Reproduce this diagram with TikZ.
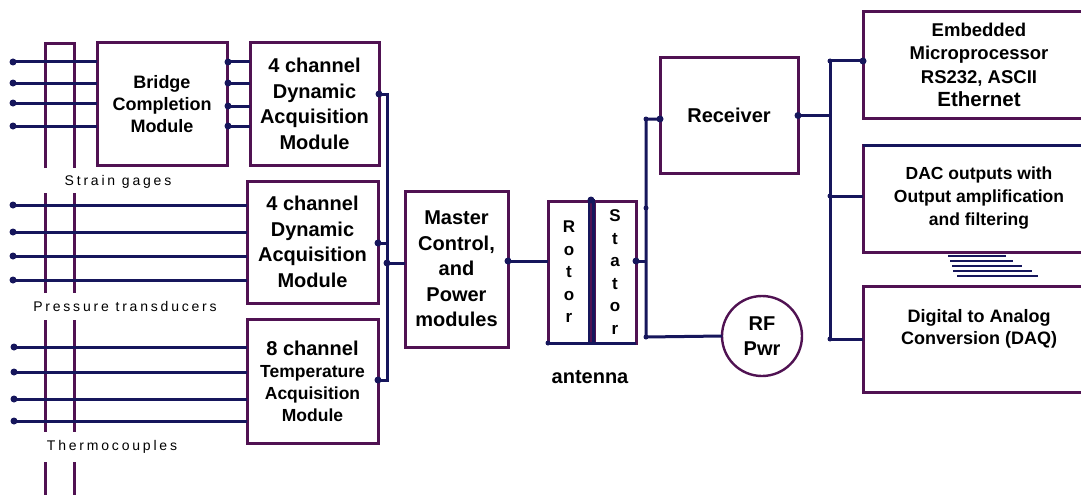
\documentclass[tikz,border=0pt]{standalone}
\usepackage{fontspec}
\setmainfont{Liberation Sans}
\newfontfamily\lblfont[LetterSpace=20]{Liberation Sans}
\newcommand\myfs[2]{\fontsize{#1}{#2}\selectfont}
\definecolor{pur}{RGB}{80,18,82}
\definecolor{nav}{RGB}{22,22,92}
\tikzset{
  box/.style={draw=pur, line width=3pt, inner sep=0pt, outer sep=0pt, align=center, font=\bfseries},
  wire/.style={draw=nav, line width=3pt},
  rail/.style={draw=pur, line width=3pt},
  jdot/.style={circle, fill=nav, inner sep=0pt, minimum size=7pt},
  lbl/.style={inner sep=0pt, font=\lblfont\myfs{14}{16}}
}
\begin{document}
\begin{tikzpicture}[x=1pt,y=-1pt]
\useasboundingbox (0,0) rectangle (1081,495);
\clip (0,0) rectangle (1081,495);
\fill[white] (0,0) rectangle (1081,495);

% ---- boxes ----
\node[box, minimum width=130pt, minimum height=122pt, font=\bfseries\myfs{18}{22}] (bridge) at (162,104) {Bridge\\Completion\\Module};
\node[box, minimum width=129pt, minimum height=122pt, font=\bfseries\myfs{20}{25.5}] (dynA) at (314.5,104) {4 channel\\Dynamic\\Acquisition\\Module};
\node[box, minimum width=131pt, minimum height=122pt, font=\bfseries\myfs{20}{25.5}] (dynB) at (312.5,242) {4 channel\\Dynamic\\Acquisition\\Module};
\node[box, minimum width=131pt, minimum height=124pt, font=\bfseries\myfs{17.5}{22}] (temp) at (312.5,381) {{\myfs{20}{24}8 channel}\\Temperature\\Acquisition\\Module};
\node[box, minimum width=103pt, minimum height=156pt, font=\bfseries\myfs{20}{25.5}] (master) at (456.5,269) {Master\\Control,\\and\\Power\\modules};
\node[box, minimum width=42pt, minimum height=142pt, font=\bfseries\myfs{17}{22.5}] (rotor) at (569,272) {R\\o\\t\\o\\r};
\node[box, minimum width=42pt, minimum height=142pt, font=\bfseries\myfs{17}{22.5}] (stator) at (615,272) {S\\t\\a\\t\\o\\r};
\node[box, minimum width=138pt, minimum height=115pt, font=\bfseries\myfs{20}{25}] (receiver) at (729,115.5) {Receiver};
\node[box, circle, line width=2.4pt, minimum size=80pt, font=\bfseries\myfs{20}{25}] (rf) at (762,336) {RF\\Pwr};
\node[box, minimum width=232pt, minimum height=106pt, font=\bfseries\myfs{18.5}{23.5}] (emb) at (979,65) {Embedded\\Microprocessor\\RS232, ASCII\\{\myfs{20.5}{24}Ethernet}};
\node[box, minimum width=232pt, minimum height=107pt, font=\bfseries\myfs{17.5}{23}] (dac) at (979,198.5) {DAC outputs with\\Output amplification\\and filtering};
\node[box, minimum width=232pt, minimum height=106pt] (daq) at (979,339) {};
\node[align=center, inner sep=0pt, font=\bfseries\myfs{18}{22}] (daqtext) at (979,329) {Digital to Analog\\Conversion (DAQ)};
\draw[wire] (dac.north west) -- (dac.north east);

% ---- labels ----
\node[lbl] (lstrain) at (118,182) {Strain gages};
\node[lbl] (lpress) at (125,306) {Pressure transducers};
\node[lbl] (lthermo) at (112,447) {Thermocouples};
\node[inner sep=0pt, font=\bfseries\myfs{20}{24}] (lant) at (590,377) {antenna};

% ---- sensor rails ----
\draw[rail] (45,168) -- (45,44) -- (74,44) -- (74,168);
\draw[rail] (45,193) -- (45,293) (74,193) -- (74,293);
\draw[rail] (45,320) -- (45,432) (74,320) -- (74,432);
\draw[rail] (45,462) -- (45,500) (74,462) -- (74,500);

% ---- sensor inputs ----
\foreach \i/\yy in {1/62,2/83,3/103,4/126}{
  \coordinate (sg\i) at (13,\yy);
  \draw[wire] (sg\i) -- (bridge.west |- sg\i);
  \node[jdot] at (sg\i) {};
}
\foreach \i/\yy in {1/205,2/232,3/256,4/280}{
  \coordinate (pt\i) at (13,\yy);
  \draw[wire] (pt\i) -- (dynB.west |- pt\i);
  \node[jdot] at (pt\i) {};
}
\foreach \i/\yy in {1/347,2/372,3/399,4/421}{
  \coordinate (tc\i) at (14,\yy);
  \draw[wire] (tc\i) -- (temp.west |- tc\i);
  \node[jdot] at (tc\i) {};
}

% ---- bridge to dynamic module ----
\foreach \i/\yy in {1/62,2/83,3/106,4/126}{
  \coordinate (bc\i) at (228,\yy);
  \draw[wire] (dynA.west |- bc\i) -- (bc\i);
  \node[jdot] at (bc\i) {};
}

% ---- left bus ----
\coordinate (la) at (387,94);
\coordinate (lb) at (387,243);
\coordinate (lm) at (387,263);
\coordinate (lc) at (387,380);
\draw[wire] (dynA.east |- la) -- (la) -- (lc) -- (temp.east |- lc);
\draw[wire] (dynB.east |- lb) -- (lb);
\draw[wire] (lm) -- (master.west |- lm);
\node[jdot] at (dynA.east |- la) {};
\node[jdot] at (dynB.east |- lb) {};
\node[jdot] at (temp.east |- lc) {};
\node[jdot] at (lm) {};

% ---- master to rotor ----
\coordinate (mr) at (508,261);
\draw[wire] (master.east |- mr) -- (rotor.west |- mr);
\node[jdot] at (master.east |- mr) {};

% ---- antenna details ----
\draw[wire] (rotor.south west) -- (stator.south east);
\draw[wire, line width=2.2pt] (589,199) -- (589,345);
\draw[wire, line width=2.2pt] (593.5,199) -- (593.5,345);
\node[jdot] at (591,200) {};
\node[jdot, minimum size=5pt] at (rotor.south west) {};

% ---- stator bus ----
\coordinate (st) at (646,261);
\coordinate (sa) at (646,119);
\coordinate (sm) at (646,208);
\coordinate (sb) at (646,337);
\draw[wire] (stator.east |- st) -- (st);
\draw[wire] (receiver.west |- sa) -- (sa) -- (sb) -- (rf.west);
\node[jdot] at (stator.east |- st) {};
\node[jdot] at (receiver.west |- sa) {};
\node[jdot, minimum size=5pt] at (sa) {};
\node[jdot, minimum size=5pt] at (sm) {};
\node[jdot, minimum size=5pt] at (sb) {};

% ---- right bus ----
\coordinate (ra) at (830,61);
\coordinate (rr) at (830,115.5);
\coordinate (rd) at (830,196);
\coordinate (rq) at (830,339);
\draw[wire] (receiver.east) -- (rr);
\draw[wire] (ra) -- (rq);
\draw[wire] (ra) -- (emb.west |- ra);
\draw[wire] (rd) -- (dac.west |- rd);
\draw[wire] (rq) -- (daq.west |- rq);
\node[jdot] at (receiver.east) {};
\node[jdot] at (emb.west |- ra) {};
\node[jdot, minimum size=5pt] at (ra) {};
\node[jdot, minimum size=5pt] at (rd) {};
\node[jdot, minimum size=5pt] at (rq) {};

% ---- output stack ----
\draw[wire, line width=2.2pt] (948,256) -- (1006,256);
\draw[wire, line width=2.2pt] (950,261) -- (1013,261);
\draw[wire, line width=2.2pt] (952,266) -- (1022,266);
\draw[wire, line width=2.2pt] (953,271) -- (1032,271);
\draw[wire, line width=2.2pt] (957,276) -- (1038,276);
\end{tikzpicture}
\end{document}
